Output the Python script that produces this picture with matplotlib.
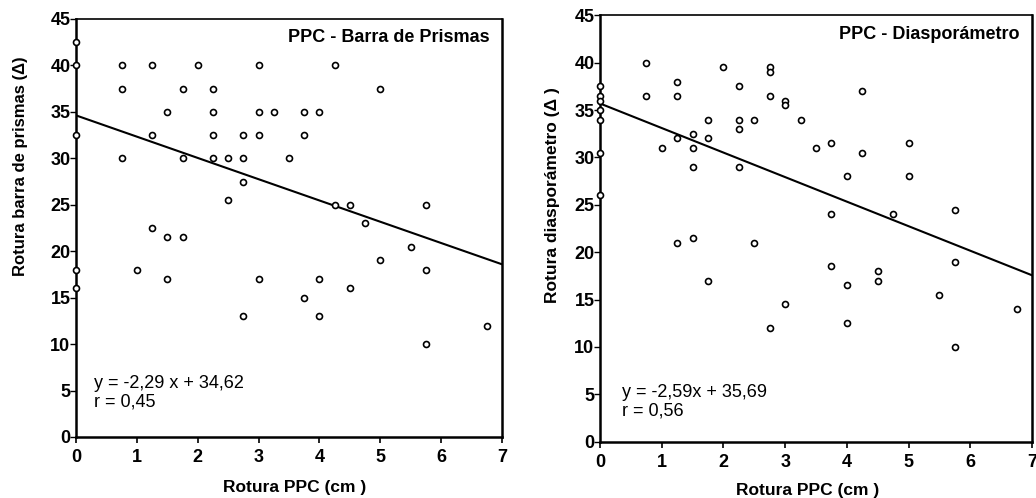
import matplotlib
matplotlib.use("Agg")
import matplotlib.pyplot as plt
import numpy as np

plt.rcParams['font.family'] = ['Liberation Sans', 'DejaVu Sans']

# Left panel: PPC vs barra de prismas
x_prismas = [0, 0, 0, 0, 0,
             0.75, 0.75, 0.75,
             1.0,
             1.25, 1.25, 1.25,
             1.5, 1.5, 1.5,
             1.75, 1.75, 1.75,
             2.0,
             2.25, 2.25, 2.25, 2.25,
             2.5, 2.5,
             2.75, 2.75, 2.75, 2.75,
             3.0, 3.0, 3.0, 3.0,
             3.25, 3.5,
             3.75, 3.75, 3.75,
             4.0, 4.0, 4.0,
             4.25, 4.25,
             4.5, 4.5,
             4.75,
             5.0, 5.0,
             5.5,
             5.75, 5.75, 5.75,
             6.75]
y_prismas = [42.5, 40, 32.5, 18, 16,
             40, 37.5, 30,
             18,
             40, 32.5, 22.5,
             35, 21.5, 17,
             37.5, 30, 21.5,
             40,
             37.5, 35, 32.5, 30,
             30, 25.5,
             32.5, 30, 27.5, 13,
             40, 35, 32.5, 17,
             35, 30,
             35, 32.5, 15,
             35, 17, 13,
             40, 25,
             25, 16,
             23,
             37.5, 19,
             20.5,
             25, 18, 10,
             12]

# Right panel: PPC vs diasporametro
x_diasp = [0, 0, 0, 0, 0, 0, 0,
           0.75, 0.75,
           1.0,
           1.25, 1.25, 1.25, 1.25,
           1.5, 1.5, 1.5, 1.5,
           1.75, 1.75, 1.75,
           2.0,
           2.25, 2.25, 2.25, 2.25,
           2.5, 2.5,
           2.75, 2.75, 2.75, 2.75,
           3.0, 3.0, 3.0,
           3.25, 3.5,
           3.75, 3.75, 3.75,
           4.0, 4.0, 4.0,
           4.25, 4.25,
           4.5, 4.5,
           4.75,
           5.0, 5.0,
           5.5,
           5.75, 5.75, 5.75,
           6.75]
y_diasp = [37.5, 36.5, 36, 35, 34, 30.5, 26,
           40, 36.5,
           31,
           38, 36.5, 32, 21,
           32.5, 31, 29, 21.5,
           34, 32, 17,
           39.5,
           37.5, 34, 33, 29,
           34, 21,
           39.5, 39, 36.5, 12,
           36, 35.5, 14.5,
           34, 31,
           31.5, 24, 18.5,
           28, 16.5, 12.5,
           37, 30.5,
           18, 17,
           24,
           31.5, 28,
           15.5,
           24.5, 19, 10,
           14]

fit_prismas = (-2.29, 34.62)
fit_diasp = (-2.59, 35.69)

x_ticks = [0, 1, 2, 3, 4, 5, 6, 7]
y_ticks = [0, 5, 10, 15, 20, 25, 30, 35, 40, 45]

fig = plt.figure(figsize=(10.36, 4.98), dpi=100)
ax1 = fig.add_axes([0.0734, 0.1225, 0.4112, 0.8394])
ax2 = fig.add_axes([0.5792, 0.1131, 0.4170, 0.8562])


def style_panel(ax, xs, ys, fit, title, ylabel, ylabel_size, ylabel_xy,
                xlabel_xy, eq_text, eq_pos):
    ax.plot(xs, ys, linestyle='none', marker='o', markersize=4.3,
            markerfacecolor='white', markeredgecolor='black',
            markeredgewidth=1.2, zorder=3, clip_on=False)
    xl = np.array([0, 7])
    ax.plot(xl, fit[0] * xl + fit[1], color='black', lw=1.5, zorder=2)
    ax.set_xlim(0, 7)
    ax.set_ylim(0, 45)
    ax.set_xticks(x_ticks)
    ax.set_yticks(y_ticks)
    ax.tick_params(axis='x', direction='out', length=4, width=1.2,
                   labelsize=13, pad=5)
    ax.tick_params(axis='y', direction='out', length=4, width=1.0,
                   labelsize=13, pad=0)
    for lab in ax.get_xticklabels() + ax.get_yticklabels():
        lab.set_fontweight('bold')
    for side in ['left', 'bottom', 'right']:
        ax.spines[side].set_linewidth(1.8)
    ax.spines['top'].set_linewidth(1.2)
    ax.set_xlabel('Rotura PPC (cm )', fontsize=12.5, fontweight='bold')
    ax.xaxis.label.set_va('center')
    ax.xaxis.set_label_coords(*xlabel_xy)
    ax.set_ylabel(ylabel, fontsize=ylabel_size, fontweight='bold')
    ax.yaxis.label.set_va('center')
    ax.yaxis.set_label_coords(*ylabel_xy)
    ax.text(0.972, 0.975, title, transform=ax.transAxes, ha='right', va='top',
            fontsize=13, fontweight='bold')
    ax.text(eq_pos[0], eq_pos[1], eq_text, ha='left', va='center',
            fontsize=13, linespacing=1.1)


style_panel(ax1, x_prismas, y_prismas, fit_prismas,
            'PPC - Barra de Prismas', 'Rotura barra de prismas (\u0394)',
            12, (-0.131, 0.648), (0.512, -0.122),
            'y = -2,29 x + 34,62\nr = 0,45', (0.3, 4.75))
style_panel(ax2, x_diasp, y_diasp, fit_diasp,
            'PPC - Diaspor\u00e1metro', 'Rotura diaspor\u00e1metro (\u0394 )',
            12.5, (-0.111, 0.579), (0.48, -0.114),
            'y = -2,59x + 35,69\nr = 0,56', (0.36, 4.2))

fig.savefig('out.png', dpi=100)
